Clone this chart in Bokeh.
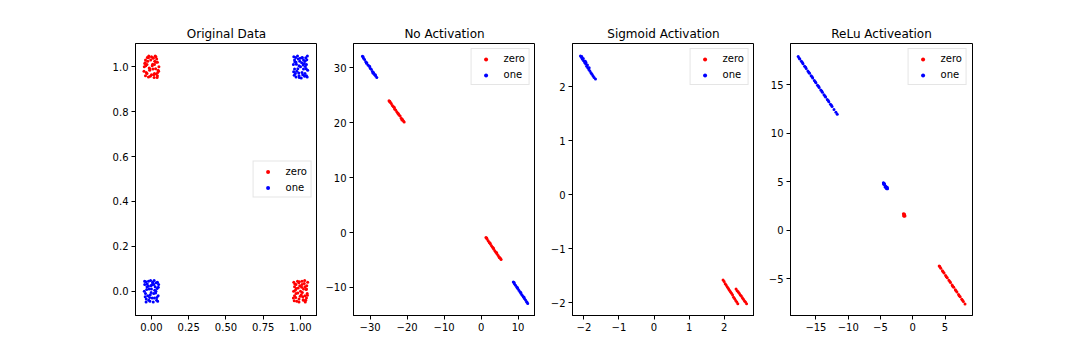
from bokeh.plotting import figure
from bokeh.layouts import row
from bokeh.models import FixedTicker, CustomJSTickFormatter, Range1d
from bokeh.embed import file_html
from bokeh.resources import INLINE

# ---------------- data ----------------
titles = ["Original Data", "No Activation", "Sigmoid Activation", "ReLu Activeation"]
series_names = ["zero", "one"]

# Original data: red ("zero") clusters near (0,1) and (1,0)
orig_zero_a = [(-0.04, 1.03), (0.02, 0.97), (0.01, 1.04), (-0.03, 1.01), (0.04, 0.96), (-0.01, 0.99),
               (0.03, 1.02), (-0.05, 0.98), (0.00, 1.045), (0.05, 1.0), (-0.02, 0.955), (0.035, 1.035),
               (-0.045, 1.015), (0.015, 0.965), (-0.025, 1.025), (0.045, 0.985), (-0.035, 0.975),
               (0.005, 1.005), (0.025, 1.048), (-0.015, 0.995), (0.04, 1.02), (-0.04, 0.96), (0.01, 0.99),
               (-0.005, 1.03), (0.03, 1.045), (-0.03, 0.97), (0.02, 1.01), (-0.02, 1.04), (0.048, 0.98),
               (-0.048, 1.0), (0.0, 0.965), (0.038, 0.952), (-0.012, 0.985), (0.022, 1.025), (-0.038, 1.005),
               (0.012, 1.038), (-0.028, 1.042), (0.042, 0.975), (-0.008, 0.958), (0.028, 0.992),
               (-0.042, 1.018), (0.018, 0.952), (0.008, 1.012), (-0.018, 1.048), (0.032, 0.968)]
orig_zero_b = [(0.97, 0.03), (1.02, -0.04), (1.04, 0.01), (0.96, -0.02), (1.01, 0.045), (0.99, -0.035),
               (1.03, 0.02), (0.955, 0.04), (1.045, -0.01), (1.0, 0.0), (0.975, -0.045), (1.025, 0.035),
               (0.985, 0.015), (1.015, -0.025), (0.965, 0.005), (1.035, -0.04), (0.995, 0.025), (1.048, 0.04),
               (0.952, -0.03), (1.005, -0.015), (0.98, 0.045), (1.02, 0.01), (0.96, 0.02), (1.04, -0.03),
               (0.99, -0.048), (1.01, 0.03), (0.97, -0.01), (1.03, -0.02), (0.958, -0.042), (1.042, 0.025),
               (0.988, 0.038), (1.012, -0.005), (0.972, 0.012), (1.028, 0.048), (0.998, -0.022),
               (1.038, 0.008), (0.962, 0.032), (1.018, -0.038), (0.982, -0.008), (1.008, 0.018),
               (0.968, -0.028), (1.032, -0.048), (0.992, 0.042), (1.046, -0.018), (0.954, 0.0)]
# Original data: blue ("one") clusters near (0,0) and (1,1)
orig_one_a = [(-0.03, 0.02), (0.02, -0.03), (0.04, 0.04), (-0.04, -0.01), (0.01, 0.035), (-0.01, -0.045),
              (0.03, 0.0), (-0.045, 0.03), (0.045, -0.02), (0.0, 0.01), (-0.02, 0.045), (0.025, 0.02),
              (-0.035, -0.035), (0.015, -0.01), (-0.005, 0.025), (0.035, -0.04), (-0.025, -0.02),
              (0.048, 0.03), (-0.048, 0.0), (0.005, -0.03), (-0.015, 0.01), (0.038, 0.012), (-0.038, 0.042),
              (0.018, 0.048), (-0.008, -0.015), (0.028, -0.008), (-0.028, 0.032), (0.042, -0.045),
              (-0.042, -0.025), (0.008, 0.04), (-0.018, -0.04), (0.032, 0.038), (-0.032, 0.008),
              (0.012, -0.048), (-0.002, -0.005), (0.022, 0.005), (-0.022, 0.022), (0.046, 0.018),
              (-0.046, 0.045), (0.002, 0.028), (-0.012, -0.028), (0.036, -0.028), (-0.036, -0.048),
              (0.016, 0.03), (-0.006, 0.048)]
orig_one_b = [(0.97, 1.02), (1.03, 0.97), (1.01, 1.04), (0.96, 0.99), (1.04, 1.01), (0.99, 0.96),
              (1.02, 1.03), (0.955, 1.045), (1.045, 0.955), (1.0, 1.0), (0.975, 0.98), (1.025, 1.015),
              (0.985, 1.035), (1.015, 0.965), (0.965, 0.97), (1.035, 1.04), (0.995, 1.025), (1.048, 0.985),
              (0.952, 1.01), (1.005, 0.95), (0.98, 1.048), (1.02, 0.99), (0.96, 1.03), (1.04, 0.96),
              (0.99, 1.005), (1.01, 0.975), (0.97, 0.955), (1.03, 1.025), (0.958, 0.962), (1.042, 1.032),
              (0.988, 0.972), (1.012, 1.042), (0.972, 1.012), (1.028, 0.958), (0.998, 1.038),
              (1.038, 0.992), (0.962, 1.022), (1.018, 1.008), (0.982, 0.992), (1.008, 1.018),
              (0.968, 1.042), (1.032, 1.002), (0.992, 0.952), (1.046, 1.048), (0.954, 0.978)]

# No activation
noact_zero = [(-24.9, 24.0), (-24.7, 23.9), (-24.6, 23.7), (-24.3, 23.5), (-24.0, 23.1), (-23.7, 22.9),
              (-23.5, 22.8), (-23.4, 22.5), (-23.1, 22.3), (-22.8, 22.0), (-22.5, 21.7), (-22.4, 21.6),
              (-22.2, 21.4), (-21.9, 21.2), (-21.6, 20.8), (-21.4, 20.5), (-21.3, 20.6), (-21.0, 20.3),
              (-20.8, 20.1),
              (1.3, -0.9), (1.5, -1.0), (1.6, -1.2), (1.9, -1.5), (2.2, -1.8), (2.4, -1.9), (2.5, -2.1),
              (2.8, -2.4), (3.1, -2.7), (3.3, -2.8), (3.4, -3.0), (3.7, -3.3), (4.0, -3.6), (4.2, -3.7),
              (4.3, -3.9), (4.6, -4.2), (4.9, -4.5), (5.0, -4.6), (5.2, -4.7), (5.4, -4.9)]
noact_one = [(-32.1, 32.1), (-31.9, 32.0), (-31.8, 31.7), (-31.5, 31.5), (-31.2, 31.1), (-31.0, 30.8),
             (-30.9, 30.9), (-30.6, 30.5), (-30.3, 30.3), (-30.1, 30.2), (-30.0, 29.9), (-29.7, 29.7),
             (-29.4, 29.3), (-29.2, 29.0), (-29.1, 29.1), (-28.8, 28.7), (-28.6, 28.7), (-28.5, 28.5),
             (-28.2, 28.2),
             (8.7, -9.0), (8.9, -9.1), (9.0, -9.3), (9.3, -9.6), (9.6, -9.9), (9.8, -10.0), (9.9, -10.2),
             (10.2, -10.5), (10.5, -10.8), (10.7, -10.9), (10.8, -11.1), (11.1, -11.4), (11.4, -11.7),
             (11.6, -11.8), (11.7, -12.0), (12.0, -12.3), (12.3, -12.6), (12.4, -12.7), (12.6, -12.9)]

# Sigmoid activation
sig_zero = [(1.97, -1.58), (2.00, -1.61), (2.03, -1.65), (2.06, -1.68), (2.09, -1.71), (2.12, -1.74),
            (2.15, -1.77), (2.18, -1.80), (2.21, -1.83), (2.24, -1.86), (2.27, -1.90), (2.30, -1.93),
            (2.33, -1.96), (2.36, -1.99), (2.39, -2.02),
            (2.34, -1.75), (2.37, -1.78), (2.40, -1.80), (2.43, -1.83), (2.46, -1.86), (2.49, -1.88),
            (2.52, -1.91), (2.55, -1.94), (2.58, -1.97), (2.61, -1.99), (2.64, -2.02)]
sig_one = [(-2.10, 2.57), (-2.07, 2.54), (-2.06, 2.56), (-2.04, 2.51), (-2.02, 2.52), (-2.01, 2.48),
           (-1.98, 2.45), (-1.96, 2.47), (-1.95, 2.42), (-1.94, 2.45), (-1.92, 2.38), (-1.90, 2.40),
           (-1.89, 2.35), (-1.86, 2.32), (-1.85, 2.35), (-1.83, 2.29), (-1.80, 2.26), (-1.77, 2.23),
           (-1.74, 2.20), (-1.71, 2.17), (-1.67, 2.14)]

# ReLU activation
relu_zero = [(-1.45, 1.72), (-1.3, 1.7), (-1.4, 1.55), (-1.25, 1.6), (-1.35, 1.45), (-1.2, 1.48),
             (4.1, -3.65), (4.2, -3.72), (4.35, -3.9), (4.6, -4.14), (4.7, -4.25), (4.85, -4.39),
             (5.1, -4.63), (5.2, -4.76), (5.35, -4.88), (5.6, -5.12), (5.75, -5.25), (5.85, -5.37),
             (6.1, -5.61), (6.2, -5.74), (6.35, -5.86), (6.6, -6.1), (6.7, -6.22), (6.85, -6.35),
             (7.1, -6.6), (7.2, -6.72), (7.35, -6.84), (7.6, -7.09), (7.7, -7.2), (7.85, -7.33),
             (8.1, -7.58)]
relu_one = [(-17.75, 17.9), (-17.6, 17.72), (-17.5, 17.65), (-17.25, 17.41), (-17.1, 17.3), (-17.0, 17.17),
            (-16.75, 16.92), (-16.6, 16.8), (-16.5, 16.68), (-16.25, 16.43), (-16.1, 16.3), (-16.0, 16.19),
            (-15.75, 15.94), (-15.6, 15.82), (-15.5, 15.7), (-15.25, 15.45), (-15.1, 15.32), (-15.0, 15.2),
            (-14.75, 14.96), (-14.6, 14.84), (-14.5, 14.72), (-14.25, 14.47), (-14.1, 14.35),
            (-14.0, 14.22), (-13.75, 13.98), (-13.6, 13.85), (-13.5, 13.74), (-13.25, 13.49),
            (-13.1, 13.37), (-13.0, 13.25), (-12.75, 13.0), (-12.6, 12.88), (-12.5, 12.76),
            (-12.2, 12.46), (-11.9, 12.17), (-11.7, 11.97),
            (-4.55, 4.9), (-4.45, 4.85), (-4.5, 4.75), (-4.4, 4.8), (-4.35, 4.7), (-4.3, 4.6),
            (-4.2, 4.55), (-4.25, 4.45), (-4.15, 4.5), (-4.1, 4.4), (-4.0, 4.35), (-3.95, 4.45),
            (-3.9, 4.3), (-4.05, 4.3)]

zero_sets = [orig_zero_a + orig_zero_b, noact_zero, sig_zero, relu_zero]
one_sets = [orig_one_a + orig_one_b, noact_one, sig_one, relu_one]

x_ticks = [[0.0, 0.25, 0.5, 0.75, 1.0], [-30, -20, -10, 0, 10], [-2, -1, 0, 1, 2], [-15, -10, -5, 0, 5]]
y_ticks = [[0.0, 0.2, 0.4, 0.6, 0.8, 1.0], [-10, 0, 10, 20, 30], [-2, -1, 0, 1, 2], [-5, 0, 5, 10, 15]]
x_decimals = [2, 0, 0, 0]
y_decimals = [1, 0, 0, 0]

# ---------------- layout / style ----------------
x_lims = [(-0.107, 1.114), (-34.5, 14.7), (-2.326, 2.866), (-18.94, 9.26)]
y_lims = [(-0.108, 1.104), (-15.1, 34.4), (-2.24, 2.80), (-8.76, 19.25)]
left_borders = [135, 36, 37, 36]
right_borders = [0, 0, 0, 20]
legend_locs = ["right", "top_right", "top_right", "top_right"]

FONT = "DejaVu Sans"


def fmt(dec):
    return CustomJSTickFormatter(code="return tick.toFixed(%d).replace('-', '\u2212');" % dec)


figs = []
for i in range(4):
    p = figure(title=titles[i], x_range=Range1d(*x_lims[i]), y_range=Range1d(*y_lims[i]),
               frame_width=182, frame_height=272,
               min_border_left=left_borders[i], min_border_right=right_borders[i],
               min_border_top=43, min_border_bottom=30,
               output_backend="svg", toolbar_location=None)
    p.background_fill_color = "white"
    p.border_fill_color = "white"
    p.outline_line_color = "black"
    p.outline_line_width = 1
    p.outline_line_alpha = 1
    p.grid.visible = False
    p.title.text_font = FONT
    p.title.text_font_size = "12px"
    p.title.text_font_style = "normal"
    p.title.text_color = "black"
    p.title.align = "center"
    p.title.standoff = 5

    p.xaxis.ticker = FixedTicker(ticks=x_ticks[i])
    p.yaxis.ticker = FixedTicker(ticks=y_ticks[i])
    p.xaxis.formatter = fmt(x_decimals[i])
    p.yaxis.formatter = fmt(y_decimals[i])
    for ax in p.axis:
        ax.major_tick_out = 4
        ax.major_tick_in = 0
        ax.minor_tick_out = 0
        ax.minor_tick_in = 0
        ax.axis_line_color = "black"
        ax.major_tick_line_color = "black"
        ax.major_label_text_font = FONT
        ax.major_label_text_font_size = "10px"
        ax.major_label_text_color = "black"
        ax.major_label_standoff = 3

    zx = [pt[0] for pt in zero_sets[i]]
    zy = [pt[1] for pt in zero_sets[i]]
    ox = [pt[0] for pt in one_sets[i]]
    oy = [pt[1] for pt in one_sets[i]]
    p.scatter(zx, zy, size=3, fill_color="#ff0000", line_color=None, legend_label=series_names[0])
    p.scatter(ox, oy, size=3, fill_color="#0000ff", line_color=None, legend_label=series_names[1])

    lg = p.legend[0]
    lg.location = legend_locs[i]
    lg.margin = 5
    lg.padding = 4
    lg.spacing = 5
    lg.glyph_width = 20
    lg.glyph_height = 10
    lg.label_height = 10
    lg.label_standoff = 8
    lg.label_text_font = FONT
    lg.label_text_font_size = "10px"
    lg.label_text_color = "black"
    lg.border_line_color = "#cccccc"
    lg.border_line_width = 1
    lg.background_fill_alpha = 0.8
    figs.append(p)

layout = row(*figs)
open("out.html", "w").write(file_html(layout, INLINE))
